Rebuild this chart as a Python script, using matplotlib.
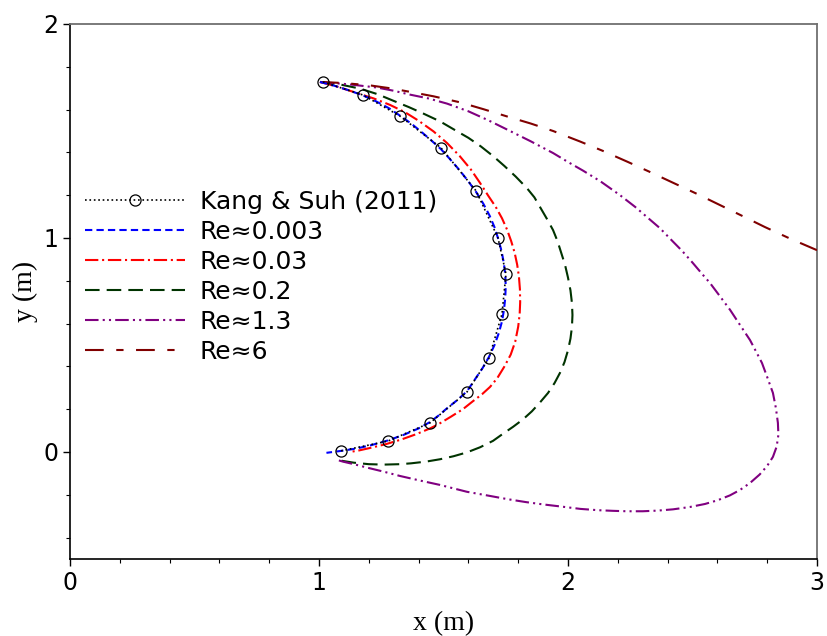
import matplotlib.pyplot as plt
from matplotlib.ticker import MultipleLocator

# Kang & Suh (2011) reference points
kang_x = [1.016, 1.177, 1.325, 1.490, 1.631, 1.719, 1.751, 1.735, 1.683, 1.594, 1.446, 1.277, 1.088]
kang_y = [1.729, 1.668, 1.570, 1.421, 1.220, 1.000, 0.832, 0.645, 0.439, 0.280, 0.136, 0.051, 0.005]

# Re ~ 0.003
re0003_x = [1.004, 1.060, 1.120, 1.177, 1.230, 1.280, 1.325, 1.370, 1.410, 1.450, 1.490, 1.525,
            1.560, 1.595, 1.631, 1.660, 1.685, 1.705, 1.720, 1.733, 1.742, 1.748, 1.750, 1.748,
            1.743, 1.735, 1.722, 1.705, 1.683, 1.657, 1.628, 1.594, 1.556, 1.515, 1.480, 1.446,
            1.400, 1.340, 1.277, 1.210, 1.150, 1.088, 1.030]
re0003_y = [1.729, 1.712, 1.690, 1.666, 1.638, 1.607, 1.572, 1.535, 1.497, 1.457, 1.415, 1.370,
            1.323, 1.272, 1.215, 1.160, 1.105, 1.050, 0.995, 0.940, 0.885, 0.830, 0.775, 0.720,
            0.665, 0.610, 0.555, 0.500, 0.445, 0.392, 0.342, 0.283, 0.243, 0.205, 0.170, 0.140,
            0.110, 0.080, 0.054, 0.032, 0.016, 0.005, -0.004]

# Re ~ 0.03
re003_x = [1.004, 1.080, 1.150, 1.220, 1.285, 1.345, 1.400, 1.460, 1.514, 1.565, 1.610, 1.647,
           1.680, 1.710, 1.735, 1.755, 1.772, 1.786, 1.796, 1.803, 1.807, 1.808, 1.806, 1.800,
           1.788, 1.770, 1.745, 1.716, 1.687, 1.655, 1.618, 1.578, 1.530, 1.480, 1.446, 1.390,
           1.330, 1.270, 1.210, 1.160, 1.124]
re003_y = [1.729, 1.705, 1.678, 1.652, 1.622, 1.588, 1.548, 1.498, 1.444, 1.383, 1.320, 1.257,
           1.197, 1.145, 1.092, 1.040, 0.985, 0.930, 0.875, 0.820, 0.760, 0.700, 0.645, 0.585,
           0.515, 0.455, 0.400, 0.345, 0.304, 0.270, 0.237, 0.200, 0.165, 0.130, 0.110, 0.083,
           0.058, 0.037, 0.020, 0.007, 0.000]

# Re ~ 0.2
re02_x = [1.004, 1.090, 1.165, 1.235, 1.297, 1.360, 1.418, 1.486, 1.545, 1.600, 1.650, 1.700,
          1.745, 1.790, 1.835, 1.865, 1.890, 1.915, 1.940, 1.958, 1.973, 1.988, 2.000, 2.010,
          2.016, 2.018, 2.016, 2.010, 2.000, 1.986, 1.968, 1.946, 1.920, 1.888, 1.855, 1.819,
          1.780, 1.740, 1.699, 1.647, 1.594, 1.540, 1.486, 1.430, 1.370, 1.325, 1.260, 1.200,
          1.140, 1.096, 1.070]
re02_y = [1.729, 1.716, 1.698, 1.672, 1.642, 1.612, 1.582, 1.545, 1.505, 1.468, 1.428, 1.382,
          1.336, 1.287, 1.233, 1.190, 1.140, 1.090, 1.037, 0.985, 0.930, 0.875, 0.815, 0.755,
          0.695, 0.640, 0.585, 0.530, 0.475, 0.420, 0.370, 0.322, 0.276, 0.232, 0.190, 0.152,
          0.118, 0.086, 0.052, 0.022, -0.002, -0.020, -0.034, -0.045, -0.053, -0.057, -0.059,
          -0.057, -0.050, -0.042, -0.036]

# Re ~ 1.3
re13_x = [1.004, 1.120, 1.233, 1.300, 1.365, 1.440, 1.514, 1.600, 1.680, 1.755, 1.850, 1.940,
          2.000, 2.060, 2.130, 2.209, 2.270, 2.317, 2.370, 2.420, 2.458, 2.500, 2.540, 2.570,
          2.610, 2.651, 2.690, 2.731, 2.755, 2.779, 2.800, 2.823, 2.835, 2.843, 2.845, 2.838,
          2.823, 2.800, 2.770, 2.731, 2.690, 2.650, 2.600, 2.550, 2.490, 2.422, 2.360, 2.300,
          2.237, 2.180, 2.120, 2.050, 1.980, 1.900, 1.830, 1.755, 1.680, 1.594, 1.540, 1.486,
          1.400, 1.325, 1.260, 1.200, 1.140, 1.096, 1.070]
re13_y = [1.729, 1.718, 1.703, 1.688, 1.670, 1.652, 1.628, 1.592, 1.550, 1.507, 1.452, 1.397,
          1.355, 1.315, 1.265, 1.200, 1.145, 1.098, 1.045, 0.985, 0.940, 0.885, 0.830, 0.790,
          0.728, 0.664, 0.595, 0.523, 0.470, 0.416, 0.350, 0.276, 0.205, 0.136, 0.080, 0.025,
          -0.023, -0.065, -0.105, -0.145, -0.178, -0.203, -0.226, -0.243, -0.257, -0.268, -0.274,
          -0.277, -0.277, -0.275, -0.272, -0.266, -0.256, -0.245, -0.234, -0.220, -0.204, -0.186,
          -0.170, -0.154, -0.132, -0.112, -0.092, -0.075, -0.057, -0.045, -0.036]

# Re ~ 6
re6_x = [1.004, 1.100, 1.205, 1.290, 1.365, 1.460, 1.566, 1.660, 1.755, 1.850, 1.940, 2.048,
         2.140, 2.241, 2.330, 2.422, 2.520, 2.610, 2.700, 2.791, 2.890, 2.980, 3.000]
re6_y = [1.729, 1.724, 1.713, 1.699, 1.683, 1.662, 1.634, 1.602, 1.568, 1.535, 1.500, 1.451,
         1.407, 1.355, 1.308, 1.258, 1.205, 1.154, 1.103, 1.051, 0.998, 0.953, 0.943]

plt.rcParams['font.family'] = 'DejaVu Sans'

fig = plt.figure(figsize=(8.27, 6.36), dpi=100)
ax = fig.add_axes([0.0846, 0.1211, 0.9033, 0.8412])

lw = 1.5
ax.plot(kang_x, kang_y, color='black', linestyle=':', linewidth=1.2,
        marker='o', markersize=8, markerfacecolor='none', markeredgecolor='black',
        markeredgewidth=0.9, label='Kang & Suh (2011)', zorder=5)
ax.plot(re0003_x, re0003_y, color='#0000ff', linewidth=lw, dashes=(3.5, 2),
        label='Re≈0.003', zorder=4)
ax.plot(re003_x, re003_y, color='#ff0000', linewidth=lw, dashes=(6.4, 1.8, 1, 1.8),
        label='Re≈0.03', zorder=3)
ax.plot(re02_x, re02_y, color='#003300', linewidth=lw, dashes=(7, 3.4),
        label='Re≈0.2', zorder=3)
ax.plot(re13_x, re13_y, color='#800080', linewidth=lw, dashes=(6.5, 2, 1, 2, 1, 2),
        label='Re≈1.3', zorder=3)
ax.plot(re6_x, re6_y, color='#800000', linewidth=lw, dashes=(9, 6, 3.5, 6),
        label='Re≈6', zorder=3)

ax.set_xlim(0, 3)
ax.set_ylim(-0.5, 2)
ax.xaxis.set_major_locator(MultipleLocator(1))
ax.xaxis.set_minor_locator(MultipleLocator(0.2))
ax.yaxis.set_major_locator(MultipleLocator(1))
ax.yaxis.set_minor_locator(MultipleLocator(0.2))
ax.tick_params(which='major', direction='out', length=5, width=1, labelsize=17,
               top=False, right=False)
ax.tick_params(which='minor', direction='out', length=3, width=0.8,
               top=False, right=False)

for side in ['top', 'right']:
    ax.spines[side].set_color('#707070')
    ax.spines[side].set_linewidth(1.3)
for side in ['left', 'bottom']:
    ax.spines[side].set_color('black')
    ax.spines[side].set_linewidth(1.2)

ax.set_xlabel('x (m)', family='Liberation Serif', fontsize=20, labelpad=12)
ax.set_ylabel('y (m)', family='Liberation Serif', fontsize=20, labelpad=4)

ax.legend(loc='center left', bbox_to_anchor=(0, 0.527), frameon=False,
          fontsize=18, handlelength=4.0, handletextpad=0.6,
          labelspacing=0.24, borderaxespad=0.2)

fig.savefig('out.png', dpi=100)
